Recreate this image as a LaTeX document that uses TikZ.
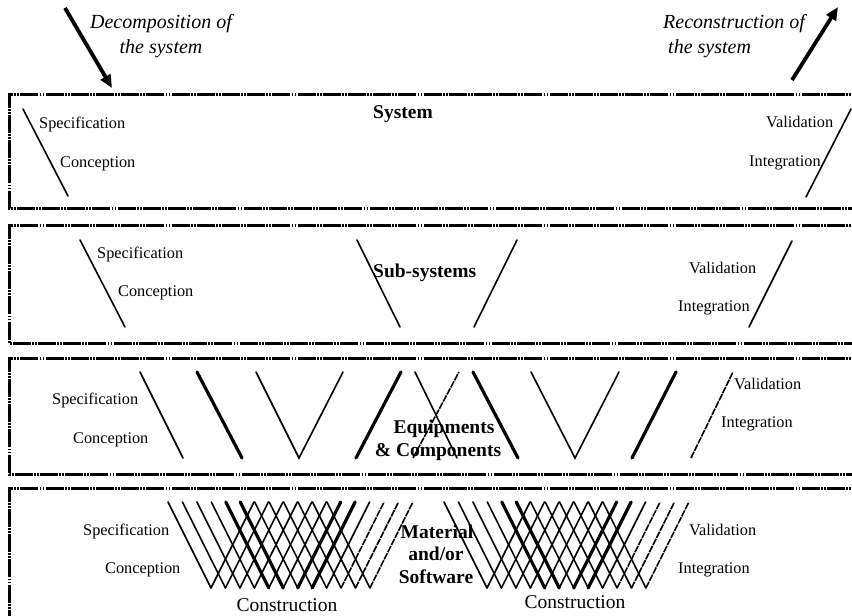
\documentclass[tikz,border=0pt]{standalone}
\usepackage{fontspec}
\setmainfont{Liberation Serif}
\usetikzlibrary{arrows.meta}
\tikzset{
  band/.style={line width=3pt, dash pattern=on 18pt off 1.2pt on 1.8pt off 1.2pt on 1.8pt off 1.2pt},
  thin/.style={line width=1.6pt, line cap=round},
  thick/.style={line width=3.2pt, line cap=round},
  thindash/.style={line width=1.6pt, dash pattern=on 7pt off 1pt},
  lab/.style={font=\fontsize{16.3}{18}\selectfont, inner sep=0pt},
  title/.style={font=\fontsize{19.5}{22}\selectfont\bfseries, inner sep=0pt},
  note/.style={font=\fontsize{20}{24}\selectfont\itshape, inner sep=0pt},
  constr/.style={font=\fontsize{19.5}{22}\selectfont, inner sep=0pt},
  bigarrow/.style={line width=3.8pt, -{Triangle[length=13pt,width=11pt]}}
}
\begin{document}
\begin{tikzpicture}[x=1pt,y=-1pt]
\useasboundingbox (0,0) rectangle (852,616);
% bands
\begin{scope}
\clip (0,0) rectangle (852,616);
\draw[band] (870,94) -- (9,94) -- (9,208) -- (870,208);
\draw[band] (870,225) -- (9,225) -- (9,343) -- (870,343);
\draw[band] (870,358) -- (9,358) -- (9,474) -- (870,474);
\draw[band] (870,488) -- (9,488) -- (9,640);
\end{scope}
% top arrows
\coordinate (decA) at (65,8);
\coordinate (decB) at (112,88);
\coordinate (recA) at (792,80);
\coordinate (recB) at (838,7);
\draw[bigarrow] (decA) -- (decB);
\draw[bigarrow] (recA) -- (recB);
\node[note, anchor=base] (dec1) at (161,28) {Decomposition of};
\node[note, anchor=base] (dec2) at (161,53) {the system};
\node[note, anchor=base west] (rec1) at (663,28) {Reconstruction of};
\node[note, anchor=base west] (rec2) at (668,53) {the system};
% band 1: System
\node[title, anchor=base west] (sys) at (373,118) {System};
\draw[thin] (23,109) -- (68,196);
\draw[thin] (806,197) -- (851,109);
\node[lab, anchor=base west] (s1spec) at (39,128) {Specification};
\node[lab, anchor=base west] (s1conc) at (60,167) {Conception};
\node[lab, anchor=base west] (s1val) at (766,127) {Validation};
\node[lab, anchor=base west] (s1int) at (749,166) {Integration};
% band 2: Sub-systems
\node[title, anchor=base west] (sub) at (373,277) {Sub-systems};
\draw[thin] (80,240) -- (125,327);
\draw[thin] (357,240) -- (400,327);
\draw[thin] (474,327) -- (517,240);
\draw[thin] (749,327) -- (792,241);
\node[lab, anchor=base west] (s2spec) at (97,258) {Specification};
\node[lab, anchor=base west] (s2conc) at (118,296) {Conception};
\node[lab, anchor=base west] (s2val) at (689,273) {Validation};
\node[lab, anchor=base west] (s2int) at (678,311) {Integration};
% band 3: Equipments
\draw[thin] (140,372) -- (183,458);
\draw[thick] (197,372) -- (242,458);
\draw[thin] (256,372) -- (299,458) -- (343,372);
\draw[thick] (356,458) -- (401,372);
\draw[thin] (415,372) -- (457,458);
\draw[thindash] (413,458) -- (459,372);
\draw[thick] (473,372) -- (518,458);
\draw[thin] (531,372) -- (575,458) -- (619,372);
\draw[thick] (632,458) -- (676,372);
\draw[thindash] (691,458) -- (733,372);
\node[lab, anchor=base west] (s3spec) at (52,404) {Specification};
\node[lab, anchor=base west] (s3conc) at (73,443) {Conception};
\node[lab, anchor=base west] (s3val) at (734,389) {Validation};
\node[lab, anchor=base west] (s3int) at (721,427) {Integration};
\node[title, anchor=base] (equip) at (444,433) {Equipments};
\node[title, anchor=base] (comp) at (438,456) {\& Components};
% band 4: Material
\foreach \B in {168,444}{
  \foreach \i in {0,...,11}{
    \pgfmathsetmacro{\xa}{\B+\i*14.45}
    \pgfmathsetmacro{\xb}{\xa+43}
    \pgfmathsetmacro{\xc}{\xa+86}
    \ifnum\i=4 \def\bs{thick}\else\ifnum\i=5 \def\bs{thick}\else\def\bs{thin}\fi\fi
    \ifnum\i=6 \def\fs{thick}\else\ifnum\i=7 \def\fs{thick}\else\ifnum\i>8 \def\fs{thindash}\else\def\fs{thin}\fi\fi\fi
    \draw[\bs] (\xa,502) -- (\xb,588);
    \draw[\fs] (\xb,588) -- (\xc,502);
  }
}
\node[lab, anchor=base west] (s4spec) at (83,535) {Specification};
\node[lab, anchor=base west] (s4conc) at (105,573) {Conception};
\node[lab, anchor=base west] (s4val) at (689,535) {Validation};
\node[lab, anchor=base west] (s4int) at (678,573) {Integration};
\node[title, anchor=base] (mat1) at (437,538) {Material};
\node[title, anchor=base] (mat2) at (436,560) {and/or};
\node[title, anchor=base] (mat3) at (436,583) {Software};
\node[constr, anchor=base] (con1) at (287,611) {Construction};
\node[constr, anchor=base] (con2) at (575,608) {Construction};
\end{tikzpicture}
\end{document}
